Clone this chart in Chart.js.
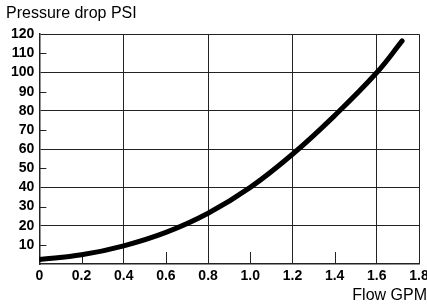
<!DOCTYPE html>
<html>
<head>
<meta charset="utf-8">
<script src="https://cdn.jsdelivr.net/npm/chart.js@4"></script>
<style>
  html, body { margin: 0; padding: 0; background: #fff; }
  #wrap { width: 427px; height: 306px; }
</style>
</head>
<body>
<div id="wrap"><canvas id="pressureChart"></canvas></div>
<script>
// Flow vs pressure drop curve
const flowGpm = [0, 0.2, 0.4, 0.6, 0.8, 1.0, 1.2, 1.4, 1.6, 1.72];
const pressurePsi = [2.4, 4.8, 9.5, 16.5, 26.5, 40, 57.3, 77.5, 100, 116.5];

const xTicks = [0, 0.2, 0.4, 0.6, 0.8, 1.0, 1.2, 1.4, 1.6, 1.8];
const yTicks = [10, 20, 30, 40, 50, 60, 70, 80, 90, 100, 110, 120];
const xMinorTicks = [0.2, 0.6, 1.0, 1.4];
const yMinorTicks = [10, 30, 50, 70, 90, 110];

const gridColor = '#222';

// short inside tick marks for the unlabelled-grid values
const minorTicks = {
    id: 'minorTicks',
    beforeDatasetsDraw(chart) {
        const c = chart.ctx;
        const x = chart.scales.x;
        const y = chart.scales.y;
        c.save();
        c.strokeStyle = gridColor;
        c.lineWidth = 1;
        c.beginPath();
        xMinorTicks.forEach(v => {
            const px = Math.round(x.getPixelForValue(v)) + 0.5;
            c.moveTo(px, y.bottom);
            c.lineTo(px, y.bottom - 12);
        });
        yMinorTicks.forEach(v => {
            const py = Math.round(y.getPixelForValue(v)) + 0.5;
            c.moveTo(x.left, py);
            c.lineTo(x.left + 7, py);
        });
        c.stroke();
        c.restore();
    }
};

const isMultiple = (v, step) => Math.abs(v / step - Math.round(v / step)) < 1e-6;

new Chart(document.getElementById('pressureChart'), {
    type: 'line',
    data: {
        datasets: [{
            data: flowGpm.map((f, i) => ({ x: f, y: pressurePsi[i] })),
            borderColor: '#000',
            borderWidth: 5,
            borderCapStyle: 'round',
            pointRadius: 0,
            tension: 0.4,
            fill: false
        }]
    },
    options: {
        responsive: true,
        maintainAspectRatio: false,
        animation: false,
        layout: { padding: { left: 6, right: 0, top: 0, bottom: -4 } },
        plugins: {
            legend: { display: false },
            tooltip: { enabled: false },
            title: {
                display: true,
                text: 'Pressure drop PSI',
                align: 'start',
                color: '#000',
                font: { family: 'Liberation Sans, Arial', size: 16, weight: 'normal' },
                padding: { top: 4, bottom: 11 }
            },
            subtitle: {
                display: true,
                position: 'bottom',
                text: 'Flow GPM',
                align: 'end',
                color: '#000',
                font: { family: 'Liberation Sans, Arial', size: 16, weight: 'normal', lineHeight: 1 },
                padding: { top: 0, bottom: 6 }
            }
        },
        scales: {
            x: {
                type: 'linear',
                min: 0,
                max: 1.8,
                afterBuildTicks: axis => { axis.ticks = xTicks.map(v => ({ value: v })); },
                // let the "1.8" label run off the right edge like the original
                afterFit: axis => { axis.paddingRight = 8; },
                ticks: {
                    color: '#000',
                    padding: 5,
                    maxRotation: 0,
                    font: { family: 'Liberation Sans, Arial', size: 14, weight: 'bold', lineHeight: 1 },
                    callback: v => v === 0 ? '0' : v.toFixed(1)
                },
                grid: {
                    drawTicks: false,
                    lineWidth: 1,
                    color: ctx => (ctx.tick && (isMultiple(ctx.tick.value, 0.4) || ctx.tick.value >= 1.8)) ? gridColor : 'rgba(0,0,0,0)'
                },
                border: { display: true, color: gridColor, width: 1.5 }
            },
            y: {
                min: 0,
                max: 120,
                afterBuildTicks: axis => { axis.ticks = yTicks.map(v => ({ value: v })); },
                ticks: {
                    color: '#000',
                    padding: 5,
                    font: { family: 'Liberation Sans, Arial', size: 14, weight: 'bold' },
                    callback: v => String(v)
                },
                grid: {
                    drawTicks: false,
                    lineWidth: 1,
                    color: ctx => (ctx.tick && isMultiple(ctx.tick.value, 20)) ? gridColor : 'rgba(0,0,0,0)'
                },
                border: { display: true, color: gridColor, width: 1.5 }
            }
        }
    },
    plugins: [minorTicks]
});
</script>
</body>
</html>
